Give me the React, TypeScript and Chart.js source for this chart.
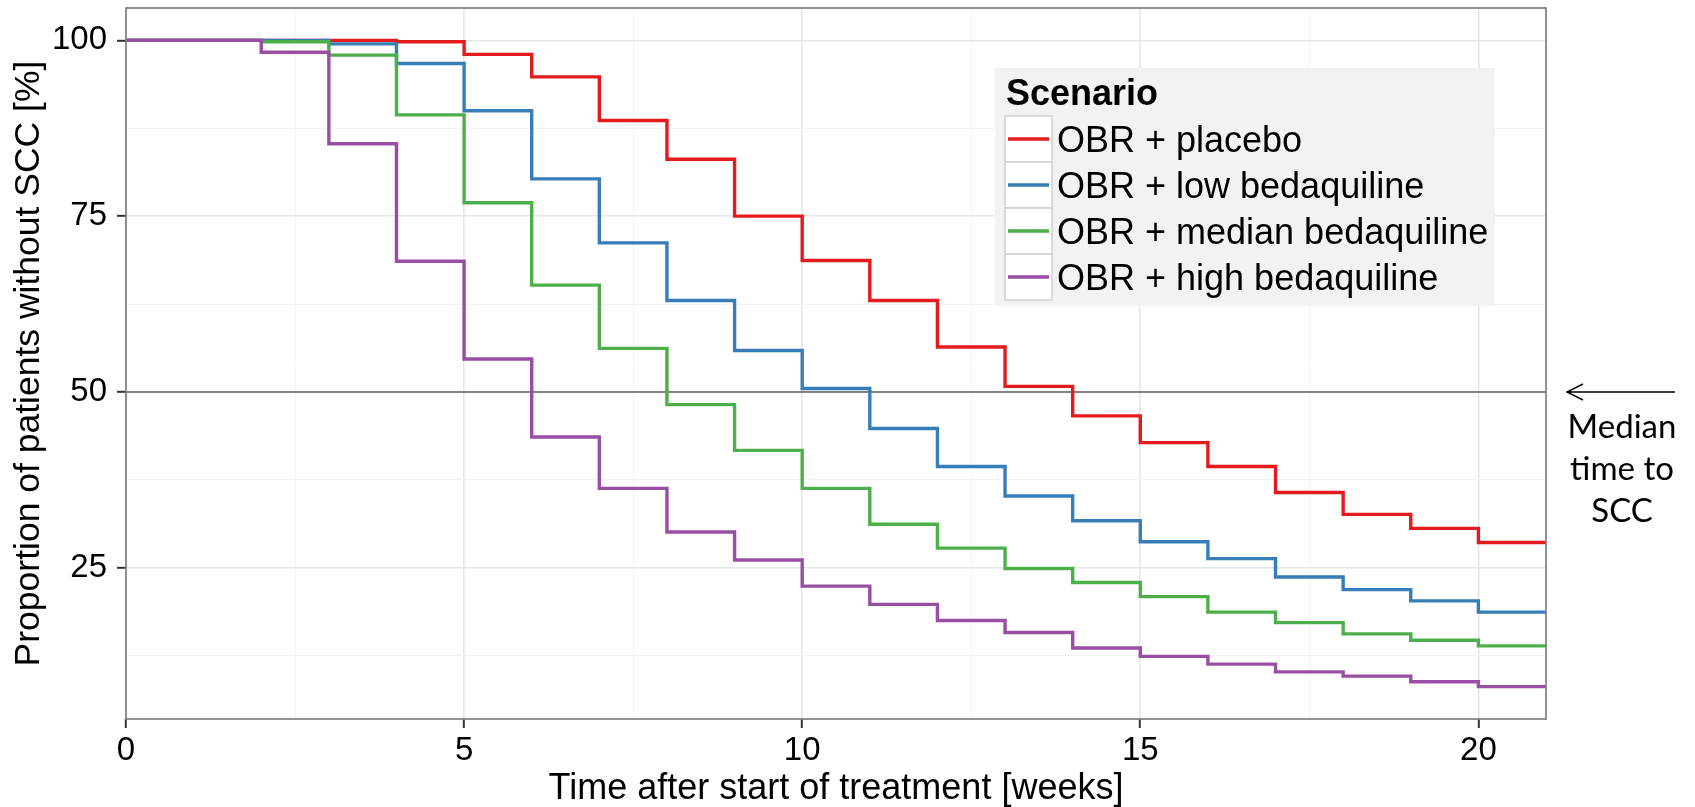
import React, { useEffect, useRef } from 'react';
import { Chart, registerables } from 'chart.js';

Chart.register(...registerables);

// ---- data ----
const weeks = [0, 1, 2, 3, 4, 5, 6, 7, 8, 9, 10, 11, 12, 13, 14, 15, 16, 17, 18, 19, 20, 21];
const placebo = [100, 100, 100, 100, 99.8, 98.0, 94.8, 88.6, 83.1, 75.0, 68.7, 63.0, 56.4, 50.8, 46.6, 42.8, 39.4, 35.7, 32.6, 30.6, 28.6, 28.6];
const lowBedaquiline = [100, 100, 100, 99.5, 96.7, 90.0, 80.3, 71.2, 63.0, 55.9, 50.5, 44.8, 39.4, 35.2, 31.7, 28.7, 26.3, 23.7, 21.9, 20.3, 18.7, 18.7];
const medianBedaquiline = [100, 100, 99.8, 97.9, 89.4, 76.9, 65.2, 56.2, 48.2, 41.7, 36.3, 31.2, 27.8, 24.9, 22.9, 20.9, 18.7, 17.2, 15.6, 14.7, 13.9, 13.9];
const highBedaquiline = [100, 100, 98.3, 85.3, 68.6, 54.7, 43.6, 36.3, 30.1, 26.1, 22.4, 19.8, 17.5, 15.8, 13.6, 12.4, 11.3, 10.2, 9.6, 8.8, 8.1, 8.1];

const seriesLabels = ['OBR + placebo', 'OBR + low bedaquiline', 'OBR + median bedaquiline', 'OBR + high bedaquiline'];
const seriesValues = [placebo, lowBedaquiline, medianBedaquiline, highBedaquiline];
const seriesColors = ['#E41A1C', '#377EB8', '#4DAF4A', '#984EA3'];

const xTicks = [0, 2.5, 5, 7.5, 10, 12.5, 15, 17.5, 20];
const xMajor = [0, 5, 10, 15, 20];
const yTicks = [12.5, 25, 37.5, 50, 62.5, 75, 87.5, 100];
const yMajor = [25, 50, 75, 100];
const xRange = [0, 21];
const yRange = [3.5, 104.6];
const medianLevel = 50;
const legendTitle = 'Scenario';
const annotationLines = ['Median', 'time to', 'SCC'];
const xTitle = 'Time after start of treatment [weeks]';
const yTitle = 'Proportion of patients without SCC [%]';

const SANS = '"Liberation Sans", Arial, Helvetica, sans-serif';

const panelBorderPlugin = {
  id: 'panelBorder',
  afterDatasetsDraw(chart: any) {
    const { ctx, chartArea } = chart;
    ctx.save();
    ctx.strokeStyle = '#7F7F7F';
    ctx.lineWidth = 1.7;
    ctx.strokeRect(chartArea.left, chartArea.top, chartArea.right - chartArea.left, chartArea.bottom - chartArea.top);
    ctx.restore();
  },
};

const legendPlugin = {
  id: 'ggLegend',
  afterDatasetsDraw(chart: any) {
    const { ctx, chartArea } = chart;
    const x0 = chartArea.right - 551;
    const y0 = chartArea.top + 60;
    const w = 500;
    const h = 238;
    ctx.save();
    ctx.fillStyle = '#F2F2F2';
    ctx.fillRect(x0, y0, w, h);
    ctx.fillStyle = '#000';
    ctx.font = `bold 36px ${SANS}`;
    ctx.textBaseline = 'alphabetic';
    ctx.textAlign = 'left';
    ctx.fillText(legendTitle, x0 + 11, y0 + 37);
    const keyX = x0 + 10;
    const keyW = 47;
    const rowH = 46;
    const top = y0 + 48;
    seriesLabels.forEach((lab, i) => {
      const ry = top + i * rowH;
      ctx.fillStyle = '#FFFFFF';
      ctx.fillRect(keyX, ry, keyW, rowH);
      ctx.strokeStyle = '#D0D0D0';
      ctx.lineWidth = 1.5;
      ctx.strokeRect(keyX, ry, keyW, rowH);
      ctx.strokeStyle = seriesColors[i];
      ctx.lineWidth = 3.4;
      ctx.beginPath();
      ctx.moveTo(keyX + 3, ry + rowH / 2);
      ctx.lineTo(keyX + keyW - 3, ry + rowH / 2);
      ctx.stroke();
      ctx.fillStyle = '#000';
      ctx.font = `36px ${SANS}`;
      ctx.textBaseline = 'alphabetic';
      ctx.fillText(lab, keyX + 52, ry + rowH / 2 + 12.8);
    });
    ctx.restore();
  },
};

const annotationPlugin = {
  id: 'medianAnnotation',
  afterDraw(chart: any) {
    const { ctx, chartArea, scales } = chart;
    const y = scales.y.getPixelForValue(medianLevel);
    const xs = chartArea.right + 21;
    const xe = chartArea.right + 129;
    ctx.save();
    ctx.strokeStyle = '#000';
    ctx.lineWidth = 1.5;
    ctx.beginPath();
    ctx.moveTo(xe, y);
    ctx.lineTo(xs, y);
    ctx.moveTo(xs + 16, y - 8);
    ctx.lineTo(xs, y);
    ctx.lineTo(xs + 16, y + 8);
    ctx.stroke();
    ctx.fillStyle = '#000';
    ctx.font = '33px "Gill Sans", Lato, "Open Sans", sans-serif';
    ctx.textAlign = 'center';
    ctx.textBaseline = 'alphabetic';
    const cx = chartArea.right + 76;
    annotationLines.forEach((t, i) => {
      ctx.fillText(t, cx, y + 46 + i * 42);
    });
    ctx.restore();
  },
};

export default function App() {
  const ref = useRef<HTMLCanvasElement | null>(null);

  useEffect(() => {
    if (!ref.current) return;
    const datasets: any[] = seriesLabels.map((label, i) => ({
      label,
      data: weeks.map((w, j) => ({ x: w, y: seriesValues[i][j] })),
      borderColor: seriesColors[i],
      backgroundColor: seriesColors[i],
      borderWidth: 3.4,
      pointRadius: 0,
      stepped: 'before',
      fill: false,
      order: 3 - i,
    }));
    datasets.push({
      label: 'median',
      data: [
        { x: xRange[0], y: medianLevel },
        { x: xRange[1], y: medianLevel },
      ],
      borderColor: '#5F5F5F',
      borderWidth: 1.7,
      pointRadius: 0,
      fill: false,
      order: 10,
    });

    const chart = new Chart(ref.current, {
      type: 'line',
      data: { datasets },
      options: {
        responsive: false,
        animation: false,
        layout: { padding: { top: 8, right: 149, bottom: 0, left: 0 }, autoPadding: false },
        plugins: { legend: { display: false }, tooltip: { enabled: false } },
        scales: {
          x: {
            type: 'linear',
            min: xRange[0],
            max: xRange[1],
            afterBuildTicks: (s: any) => {
              s.ticks = xTicks.map((v) => ({ value: v }));
            },
            afterFit: (s: any) => {
              s.height = 88;
              s.paddingLeft = 0;
              s.paddingRight = 0;
            },
            border: { display: false },
            grid: {
              color: (c: any) => (xMajor.includes(c.tick?.value) ? '#E6E6E6' : '#F3F3F3'),
              lineWidth: (c: any) => (xMajor.includes(c.tick?.value) ? 1.6 : 1),
              tickColor: (c: any) => (xMajor.includes(c.tick?.value) ? '#333333' : 'rgba(0,0,0,0)'),
              tickLength: 9,
              tickWidth: 2,
            },
            ticks: {
              color: '#000',
              font: { family: SANS, size: 33 },
              padding: 3,
              maxRotation: 0,
              autoSkip: false,
              callback: (v: any) => (xMajor.includes(Number(v)) ? String(v) : ''),
            },
            title: {
              display: true,
              text: xTitle,
              color: '#000',
              font: { family: SANS, size: 36 },
              padding: { top: 0, bottom: -4 },
            },
          },
          y: {
            type: 'linear',
            min: yRange[0],
            max: yRange[1],
            afterBuildTicks: (s: any) => {
              s.ticks = yTicks.map((v) => ({ value: v }));
            },
            afterFit: (s: any) => {
              s.width = 126;
              s.paddingTop = 0;
              s.paddingBottom = 0;
            },
            border: { display: false },
            grid: {
              color: (c: any) => (yMajor.includes(c.tick?.value) ? '#E6E6E6' : '#F3F3F3'),
              lineWidth: (c: any) => (yMajor.includes(c.tick?.value) ? 1.6 : 1),
              tickColor: (c: any) => (yMajor.includes(c.tick?.value) ? '#333333' : 'rgba(0,0,0,0)'),
              tickLength: 9,
              tickWidth: 2,
            },
            ticks: {
              color: '#000',
              font: { family: SANS, size: 33 },
              padding: 10,
              autoSkip: false,
              callback: (v: any) => (yMajor.includes(Number(v)) ? String(v) : ''),
            },
            title: {
              display: true,
              text: yTitle,
              color: '#000',
              font: { family: SANS, size: 35.5 },
              padding: { top: 8, bottom: 0 },
            },
          },
        },
      },
      plugins: [panelBorderPlugin, legendPlugin, annotationPlugin],
    } as any);
    return () => chart.destroy();
  }, []);

  return (
    <div style={{ position: 'absolute', left: 0, top: 0, width: 1695, height: 807, background: '#fff' }}>
      <canvas ref={ref} width={1695} height={807} style={{ display: 'block', width: 1695, height: 807 }} />
    </div>
  );
}
